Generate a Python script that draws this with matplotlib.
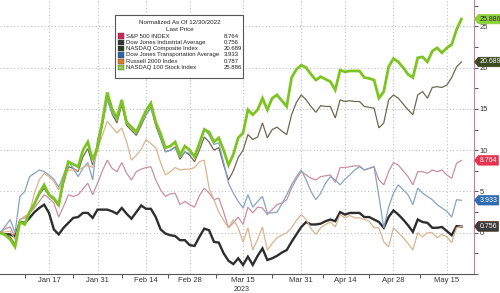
import matplotlib
matplotlib.use("Agg")
import matplotlib.pyplot as plt
from matplotlib.path import Path
from matplotlib.patches import Rectangle

plt.rcParams['font.family'] = ['Liberation Sans', 'DejaVu Sans']

tick_pos = [10, 20, 30, 39, 50, 62, 71, 81, 92]
tick_labels = ["Jan 17", "Jan 31", "Feb 14", "Feb 28", "Mar 15", "Mar 31", "Apr 14", "Apr 28", "May 15"]
minor_pos = [5, 15, 25, 34.5, 44.5, 56, 66.5, 76, 86.5]

names = ["S&P 500 INDEX", "Dow Jones Industrial Average", "NASDAQ Composite Index",
         "Dow Jones Transportation Average", "Russell 2000 Index", "NASDAQ 100 Stock Index"]
last_vals = ["8.764", "0.756", "20.689", "3.933", "0.787", "25.886"]

spx = [0, 0.5, 0.7, -0.5, 1.6, 1.8, 2.4, 3.0, 3.8, 4.6, 4.2, 3.6, 1.9, 3.2, 4.6, 4.4, 4.6, 5.3, 6.0, 4.6,
       6.0, 7.5, 8.8, 7.8, 7.4, 8.5, 7.2, 6.4, 7.4, 7.7, 7.9, 8.0, 6.4, 5.2, 4.4, 4.7, 4.8, 3.4, 3.8, 3.4,
       3.1, 4.5, 5.4, 4.8, 4.0, 4.2, 2.5, 0.6, 1.2, 1.9, 1.0, 3.1, 2.4, 3.1, 3.0, 2.2, 2.8, 3.4, 3.6, 4.0,
       5.4, 6.5, 7.4, 7.0, 6.6, 6.4, 6.8, 6.9, 7.0, 6.1, 7.9, 7.9, 8.0, 8.1, 8.1, 7.6, 7.8, 8.0, 6.4, 5.8,
       7.4, 8.5, 8.2, 7.5, 6.8, 5.8, 7.4, 7.4, 7.2, 7.6, 7.4, 7.6, 7.0, 6.6, 8.4, 8.764]
dow = [0, -0.2, -0.2, -0.5, 1.3, 1.2, 1.8, 2.5, 3.0, 3.4, 2.4, 0.4, -0.2, 0.6, 1.2, 1.8, 1.9, 2.4, 2.4, 1.8,
       2.8, 2.8, 2.8, 2.6, 2.3, 3.0, 2.3, 1.7, 2.5, 3.3, 2.9, 2.9, 1.9, 0.4, -0.1, -0.3, -0.4, -0.9, -0.9, -1.5,
       -1.6, -0.5, 0.5, 0.3, -1.1, -1.2, -2.5, -3.4, -3.8, -3.1, -3.9, -2.9, -3.9, -2.8, -1.9, -3.3, -3.1, -2.8, -2.4, -2.1,
       -1.1, -0.2, 0.7, 1.3, 1.0, 1.0, 1.1, 1.4, 1.6, 1.4, 2.5, 2.2, 2.4, 2.4, 2.4, 1.9, 1.9, 1.6, 1.3, 0.6,
       1.9, 2.7, 2.2, 1.6, 0.9, 0.1, 1.6, 1.3, 1.2, 0.6, 0.6, 0.7, 0.2, -0.3, 0.8, 0.756]
ccmp = [0, -0.2, -0.5, -1.4, 1.2, 1.2, 2.6, 3.5, 4.6, 5.4, 4.5, 4.0, 3.2, 6.0, 8.0, 7.8, 7.4, 9.2, 10.2, 8.2,
        10.0, 13.0, 16.3, 14.4, 13.3, 15.5, 13.0, 12.4, 11.8, 13.0, 14.3, 15.2, 13.0, 11.4, 9.8, 10.0, 10.4, 8.9, 9.8, 9.4,
        8.6, 10.0, 11.6, 11.0, 10.0, 10.3, 8.2, 6.4, 7.5, 9.1, 10.0, 11.9, 11.3, 11.6, 13.3, 11.5, 12.5, 12.8, 12.3, 11.9,
        14.3, 15.8, 16.7, 16.1, 15.3, 14.6, 15.4, 15.3, 15.3, 13.9, 16.1, 15.9, 16.0, 15.9, 15.9, 15.3, 15.2, 15.1, 12.7, 13.3,
        16.1, 16.7, 16.3, 15.6, 14.9, 14.3, 16.7, 17.1, 16.3, 17.6, 17.7, 17.6, 17.9, 18.8, 20.1, 20.689]
tran = [0, 0.8, 1.6, 0.0, 4.4, 5.0, 6.8, 7.2, 7.6, 7.4, 7.0, 6.5, 5.5, 7.0, 8.6, 7.8, 6.8, 7.8, 8.5, 6.4,
        11.3, 13.5, 16.1, 14.5, 13.7, 15.9, 13.6, 12.8, 12.1, 13.2, 14.3, 15.1, 13.3, 11.5, 9.8, 10.0, 10.3, 9.1, 9.8, 9.6,
        9.4, 11.0, 12.7, 11.8, 10.7, 10.9, 8.5, 6.0, 4.8, 3.8, 3.0, 4.6, 3.1, 3.8, 4.4, 2.4, 2.4, 2.5, 3.5, 4.6,
        5.8, 6.8, 7.6, 6.4, 5.0, 4.0, 4.8, 6.0, 6.8, 6.4, 5.8, 6.5, 7.0, 7.6, 8.0, 7.6, 7.8, 8.0, 4.4, 0.6,
        3.1, 4.8, 5.8, 5.2, 4.6, 3.4, 5.4, 4.8, 4.4, 4.0, 3.4, 3.0, 2.6, 1.9, 4.0, 3.933]
rty = [0, 0.1, 0.2, -0.8, 1.6, 2.0, 2.4, 4.8, 6.4, 7.2, 6.8, 6.2, 5.2, 6.5, 7.6, 7.6, 7.6, 7.9, 8.2, 7.9,
       10.1, 11.8, 13.5, 12.8, 12.1, 12.7, 11.0, 8.8, 9.4, 10.1, 11.3, 10.8, 10.3, 8.5, 7.0, 7.4, 7.9, 7.6, 7.7, 7.7,
       7.9, 8.6, 8.8, 5.4, 4.0, 2.5, 1.5, 0.6, 1.6, 0.6, -1.1, 0.6, -2.1, -0.8, 0.7, -2.1, -1.3, -0.6, -0.3, 0.0,
       0.6, 1.5, 2.2, 1.6, 0.5, -0.2, 0.6, 1.0, 1.3, 0.7, 2.2, 1.8, 2.1, 1.8, 1.8, 1.6, 1.4, 0.6, 0.6, -1.1,
       -1.7, 0.6, 0.0, -0.6, -1.3, -2.1, 0.0, -0.5, 0.0, 0.0, -0.6, -0.2, -0.5, -1.2, 0.6, 0.787]
ndx = [0, -0.3, -0.8, -1.7, 1.3, 1.0, 2.5, 3.5, 4.8, 5.8, 4.6, 4.2, 3.4, 6.5, 8.6, 8.3, 8.0, 10.0, 11.0, 8.8,
       10.4, 13.5, 17.0, 15.0, 13.9, 16.1, 13.3, 12.8, 12.2, 13.5, 14.8, 15.7, 13.4, 12.0, 10.3, 10.5, 11.0, 9.4, 10.5, 10.0,
       9.2, 10.8, 12.5, 12.2, 11.0, 11.5, 10.0, 8.2, 9.5, 11.5, 12.1, 14.9, 14.3, 14.9, 16.3, 14.9, 16.3, 16.7, 16.0, 15.3,
       18.8, 19.8, 20.3, 20.0, 19.2, 18.5, 18.9, 18.6, 18.3, 17.3, 19.7, 19.5, 19.6, 19.6, 19.6, 18.8, 18.7, 18.5, 16.3, 17.1,
       20.1, 21.1, 20.7, 20.0, 19.2, 18.8, 21.2, 21.3, 20.7, 22.0, 22.4, 21.8, 22.4, 22.8, 24.6, 25.886]

series = [spx, dow, ccmp, tran, rty, ndx]
line_colors = ["#cc8ea2", "#2e2e2e", "#6e6852", "#86a4c2", "#dbb48e", "#7cc520"]
line_widths = [0.9, 1.7, 0.9, 0.9, 0.9, 2.0]
legend_colors = ["#d3225a", "#333333", "#263d17", "#2c66aa", "#e47b22", "#8fd23a"]
tag_colors = ["#e3334d", "#3c3c3c", "#3b4a1f", "#2f6db2", "#e47b22", "#8cd13a"]
tag_text = ["white", "white", "white", "white", "white", "#2a2a2a"]
draw_order = [4, 0, 3, 2, 1, 5]

W, H = 500, 293
fig = plt.figure(figsize=(W / 100, H / 100), dpi=100)
ax = fig.add_axes([0, 19 / H, 474 / W, 274 / H])

x = list(range(len(ndx)))
for k in draw_order:
    ax.plot(x, series[k], color=line_colors[k], lw=line_widths[k], solid_joinstyle='miter', zorder=3 + k * 0.1)

ax.set_xlim(-0.1, 97.6)
ax.set_ylim(-5, 28.2)
ax.set_xticks(tick_pos)
ax.set_xticklabels(tick_labels, fontsize=5.5, color="#333333")
ax.set_xticks(minor_pos, minor=True)
ax.tick_params(axis='x', which='major', length=0, pad=2.5)
ax.tick_params(axis='x', which='minor', length=3, width=0.7, color="#555555")
ax.yaxis.tick_right()
ax.set_yticks([0, 5, 10, 15, 20, 25])
ax.set_yticks([-5, -2.5, 2.5, 7.5, 12.5, 17.5, 22.5, 27.5], minor=True)
ax.tick_params(axis='y', which='both', length=3, width=0.7, color="#555555", labelsize=5.5,
               labelcolor="#333333", pad=1)
ax.grid(True, which='major', color="#b5b5b5", linestyle=(0, (1, 2.5)), linewidth=0.7)
for s in ['top', 'left']:
    ax.spines[s].set_visible(False)
ax.spines['right'].set_color("#c97ea0")
ax.spines['right'].set_linewidth(0.8)
ax.spines['bottom'].set_color("#555555")
ax.spines['bottom'].set_linewidth(0.8)

fig.text(242 / W, 1 - 289.5 / H, "2023", ha='center', va='center', fontsize=5.2, color="#333333")


def pent(x0, y0, width, height, mutation_size):
    pad = mutation_size * 0.18
    x0 -= pad
    y0 -= pad
    w = width + 2 * pad
    h = height + 2 * pad
    verts = [(x0, y0), (x0 + w, y0), (x0 + w, y0 + h), (x0, y0 + h), (x0 - h * 0.4, y0 + h / 2), (x0, y0)]
    return Path(verts, closed=True)


for k in [4, 0, 3, 2, 1, 5]:
    v = series[k][-1]
    ax.annotate(last_vals[k], xy=(1, v), xycoords=('axes fraction', 'data'), xytext=(4.0, 0),
                textcoords='offset points', ha='left', va='center', fontsize=5.0, color=tag_text[k],
                bbox=dict(boxstyle=pent, fc=tag_colors[k], ec=tag_colors[k], lw=0.5),
                annotation_clip=False, zorder=10)


def fx(px):
    return px / W


def fy(py):
    return 1 - py / H


fig.patches.append(Rectangle((fx(115), fy(78)), fx(243) - fx(115), (78 - 15) / H,
                             transform=fig.transFigure, fc="white", ec="#555555", lw=0.8, zorder=20))
fig.text(fx(180), fy(23), "Normalized As Of 12/30/2022", ha='center', va='center', fontsize=4.5,
         color="#222222", zorder=21)
fig.text(fx(180), fy(29.5), "Last Price", ha='center', va='center', fontsize=4.5, color="#222222", zorder=21)
rows = [36, 42.3, 48.6, 54.9, 61.2, 67.5]
for k in range(6):
    fig.patches.append(Rectangle((fx(118), fy(rows[k] + 2.6)), 5.5 / W, 5.2 / H, transform=fig.transFigure,
                                 fc=legend_colors[k], ec="#444444", lw=0.3, zorder=21))
    fig.text(fx(126), fy(rows[k]), names[k], ha='left', va='center', fontsize=4.3, color="#222222", zorder=21)
    fig.text(fx(224), fy(rows[k]), last_vals[k], ha='left', va='center', fontsize=4.3, color="#222222", zorder=21)

fig.savefig("out.png", dpi=100)
